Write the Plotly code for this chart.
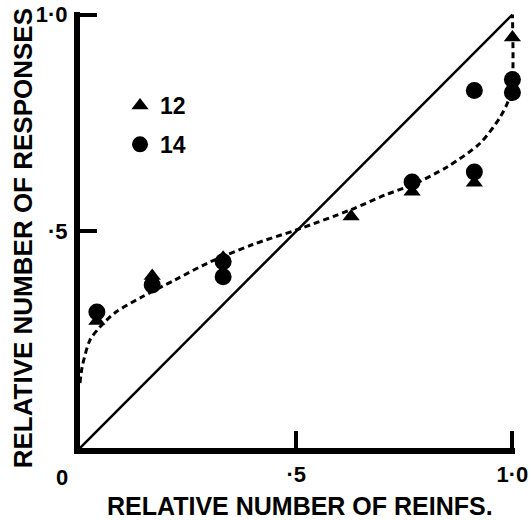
import plotly.graph_objects as go

# Data
tri_x = [0.039, 0.167, 0.331, 0.627, 0.768, 0.912, 1.0]
tri_y = [0.293, 0.397, 0.439, 0.534, 0.591, 0.612, 0.947]

circ_x = [0.039, 0.167, 0.331, 0.331, 0.768, 0.912, 0.912, 1.0, 1.0]
circ_y = [0.314, 0.376, 0.430, 0.395, 0.614, 0.637, 0.825, 0.850, 0.820]

curve_x = [0.0, 0.005, 0.023, 0.046, 0.081, 0.144, 0.22, 0.296, 0.398, 0.5,
           0.627, 0.706, 0.768, 0.85, 0.926, 0.972, 0.99, 1.0, 1.0]
curve_y = [0.15, 0.187, 0.249, 0.279, 0.312, 0.349, 0.388, 0.427, 0.469, 0.503,
           0.55, 0.584, 0.607, 0.649, 0.704, 0.764, 0.80, 0.85, 1.0]

diag_x = [0.0, 1.0]
diag_y = [0.0, 1.0]

tick_vals = [0.5, 1.0]
tick_text = ["·5", "1·0"]

series_names = ["12", "14"]
x_title = "RELATIVE NUMBER OF REINFS."
y_title = "RELATIVE NUMBER OF RESPONSES"

FONT = "Liberation Sans, Arial, Helvetica, sans-serif"

fig = go.Figure()

fig.add_trace(go.Scatter(x=diag_x, y=diag_y, mode="lines",
                         line=dict(color="black", width=2.5),
                         showlegend=False, hoverinfo="skip", cliponaxis=False))
fig.add_trace(go.Scatter(x=curve_x, y=curve_y, mode="lines",
                         line=dict(color="black", width=3, dash="6px,4px",
                                   shape="spline", smoothing=0.8),
                         showlegend=False, hoverinfo="skip", cliponaxis=False))
fig.add_trace(go.Scatter(x=circ_x, y=circ_y, mode="markers", name=series_names[1],
                         legendgroup="b", legendrank=2,
                         marker=dict(symbol="circle", size=17, color="black"),
                         cliponaxis=False))
fig.add_trace(go.Scatter(x=tri_x, y=tri_y, mode="markers", name=series_names[0],
                         legendgroup="a", legendrank=1,
                         marker=dict(symbol="triangle-up", size=15, color="black"),
                         cliponaxis=False))

# range slightly beyond 1.0 so the inside end ticks at 1.0 are still drawn
axis_common = dict(
    range=[0, 1.006], showgrid=False, zeroline=False, automargin=False,
    showline=True, linecolor="black", linewidth=6,
    ticks="inside", ticklen=17, tickwidth=4, tickcolor="black",
    tickvals=tick_vals, ticktext=tick_text,
    tickfont=dict(family=FONT, size=22, color="black", weight="bold"),
    fixedrange=True,
)

fig.update_layout(
    width=531, height=520,
    margin=dict(l=80, r=16, t=12, b=72),
    paper_bgcolor="white", plot_bgcolor="white",
    xaxis=dict(**axis_common, ticklabelstandoff=2),
    yaxis=dict(**axis_common, ticklabelstandoff=2),
    legend=dict(
        x=0.092, y=0.835, xanchor="left", yanchor="top",
        font=dict(family=FONT, size=23, color="black", weight="bold"),
        bgcolor="rgba(0,0,0,0)", tracegroupgap=6, itemsizing="trace",
    ),
    annotations=[
        dict(text="0", x=-0.042, y=-0.067, xref="paper", yref="paper",
             showarrow=False, xanchor="center", yanchor="middle",
             font=dict(family=FONT, size=22, color="black", weight="bold")),
        dict(text=x_title, x=0.505, y=-0.133, xref="paper", yref="paper",
             showarrow=False, xanchor="center", yanchor="middle",
             font=dict(family=FONT, size=25, color="black", weight="bold")),
        dict(text=y_title, x=-0.132, y=0.48, xref="paper", yref="paper",
             showarrow=False, xanchor="center", yanchor="middle", textangle=-90,
             font=dict(family=FONT, size=26, color="black", weight="bold")),
    ],
)

fig.write_html("out.html")
